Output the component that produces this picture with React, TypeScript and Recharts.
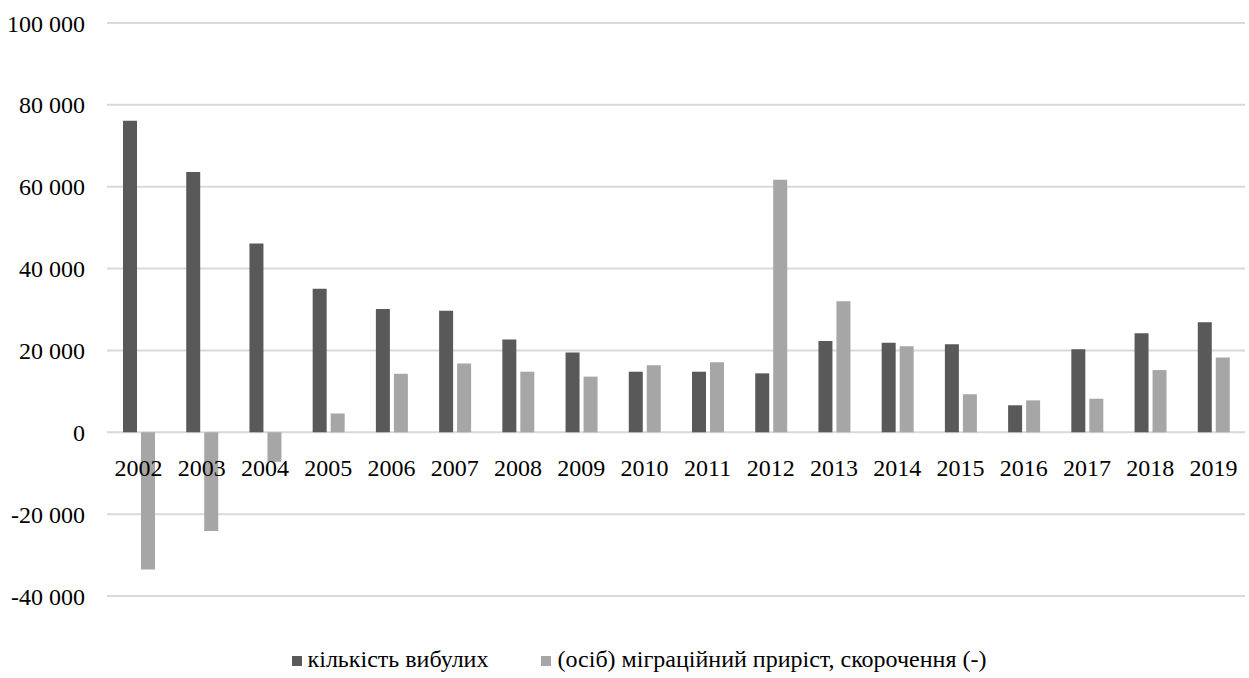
import React from "react";
import {
  BarChart,
  Bar,
  XAxis,
  YAxis,
  CartesianGrid,
  Legend,
} from "recharts";

// роки
const years = [
  "2002", "2003", "2004", "2005", "2006", "2007", "2008", "2009", "2010",
  "2011", "2012", "2013", "2014", "2015", "2016", "2017", "2018", "2019",
];

// кількість вибулих
const departed = [
  76100, 63600, 46100, 35100, 30100, 29700, 22700, 19500, 14800,
  14800, 14400, 22300, 21900, 21500, 6600, 20300, 24200, 26900,
];

// міграційний приріст, скорочення (-)
const migration = [
  -33500, -24100, -7200, 4600, 14300, 16800, 14800, 13600, 16400,
  17100, 61700, 32000, 21000, 9300, 7800, 8200, 15200, 18300,
];

const yTicks = [-40000, -20000, 0, 20000, 40000, 60000, 80000, 100000];

const seriesNames = ["кількість вибулих", "(осіб) міграційний приріст, скорочення (-)"];

const data = years.map((year, i) => ({
  year,
  departed: departed[i],
  migration: migration[i],
}));

const W = 1249;
const H = 678;
const TOP = 23;
const PLOT_BOTTOM = 595;
const LEGEND_H = 30;
const Y_MIN = -40000;
const Y_MAX = 100000;
const ZERO_Y = TOP + ((PLOT_BOTTOM - TOP) * Y_MAX) / (Y_MAX - Y_MIN);

const FONT = '"Liberation Serif", "Times New Roman", serif';
const DARK = "#595959";
const LIGHT = "#a6a6a6";

const fmt = (v: number) => {
  const s = Math.abs(v).toString().replace(/\B(?=(\d{3})+(?!\d))/g, " ");
  return (v < 0 ? "-" : "") + s;
};

const YearTick = (props: any) => {
  const { x, payload } = props;
  return (
    <text
      x={x}
      y={ZERO_Y + 44}
      textAnchor="middle"
      fontFamily={FONT}
      fontSize={24}
      fill="#000"
    >
      {payload.value}
    </text>
  );
};

const LegendContent = () => (
  <div
    style={{
      display: "flex",
      justifyContent: "center",
      alignItems: "center",
      height: LEGEND_H,
      fontFamily: FONT,
      fontSize: 24,
      color: "#000",
      paddingLeft: 33,
    }}
  >
    {seriesNames.map((name, i) => (
      <div
        key={name}
        style={{ display: "flex", alignItems: "center", marginRight: i === 0 ? 53 : 0 }}
      >
        <span
          style={{
            display: "inline-block",
            width: 10,
            height: 10,
            background: i === 0 ? DARK : LIGHT,
            marginRight: 6,
            marginTop: 4,
          }}
        />
        <span>{name}</span>
      </div>
    ))}
  </div>
);

export default function App() {
  return (
    <div style={{ position: "absolute", left: 0, top: 0, background: "#fff" }}>
      <BarChart
        width={W}
        height={H}
        data={data}
        margin={{ top: TOP, right: 4, left: 0, bottom: 0 }}
        barGap={4}
        barSize={14}
      >
        <CartesianGrid vertical={false} stroke="#d9d9d9" strokeWidth={2} />
        <XAxis
          dataKey="year"
          axisLine={false}
          tickLine={false}
          height={H - PLOT_BOTTOM - LEGEND_H - 1}
          tick={<YearTick />}
          interval={0}
        />
        <YAxis
          domain={[Y_MIN, Y_MAX]}
          ticks={yTicks}
          width={107}
          axisLine={false}
          tickLine={false}
          tickSize={0}
          tickMargin={22}
          tickFormatter={fmt}
          tick={{ fontSize: 24, fill: "#000", fontFamily: FONT }}
        />
        <Legend
          verticalAlign="bottom"
          content={<LegendContent />}
          wrapperStyle={{ bottom: 4 }}
        />
        <Bar dataKey="departed" fill={DARK} isAnimationActive={false} />
        <Bar dataKey="migration" fill={LIGHT} isAnimationActive={false} />
      </BarChart>
    </div>
  );
}
